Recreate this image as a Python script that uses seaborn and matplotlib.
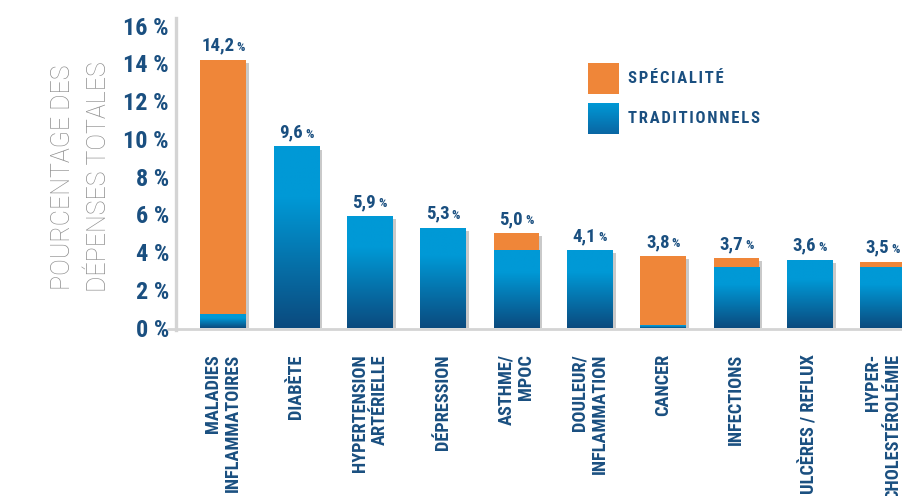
import numpy as np
import matplotlib
matplotlib.use("Agg")
import matplotlib.pyplot as plt
import matplotlib.patheffects as pe
from matplotlib.colors import LinearSegmentedColormap
from matplotlib.patches import Rectangle
from matplotlib.offsetbox import TextArea, HPacker, AnnotationBbox
from matplotlib import font_manager as fm
import seaborn as sns

# Share of total spending by therapeutic class
categories = [
    "MALADIES\nINFLAMMATOIRES", "DIABÈTE", "HYPERTENSION\nARTÉRIELLE",
    "DÉPRESSION", "ASTHME/\nMPOC", "DOULEUR/\nINFLAMMATION", "CANCER",
    "INFECTIONS", "ULCÈRES / REFLUX", "HYPER-\nCHOLESTÉROLÉMIE",
]
totals = [14.2, 9.6, 5.9, 5.3, 5.0, 4.1, 3.8, 3.7, 3.6, 3.5]
traditional = [0.7, 9.6, 5.9, 5.3, 4.1, 4.1, 0.15, 3.2, 3.6, 3.2]
value_labels = ["14,2", "9,6", "5,9", "5,3", "5,0", "4,1", "3,8", "3,7", "3,6", "3,5"]
y_ticks = [0, 2, 4, 6, 8, 10, 12, 14, 16]
series_names = ["SPÉCIALITÉ", "TRADITIONNELS"]

ORANGE = "#ef8639"
BLUE_LIGHT = "#0099d6"
BLUE_DARK = "#0b4a7e"
NAVY = "#1a4f80"
GREY_AXIS = "#d4d4d4"
SHADOW = "#c9c9c9"

sns.set_style("white")
names = {f.name for f in fm.fontManager.ttflist}
condensed = [n for n in ["Roboto Condensed", "Liberation Sans Narrow", "DejaVu Sans Condensed",
                         "Roboto", "DejaVu Sans"] if n in names]
plt.rcParams["font.family"] = condensed + ["DejaVu Sans"]


def tracked(s):
    """Spread capitals apart with hair spaces."""
    return "\u200a".join(s)


fig = plt.figure(figsize=(9.02, 4.96), dpi=100)
ax = fig.add_axes([176 / 902, 1 - 327.7 / 496, (902 - 176) / 902, (327.7 - 18) / 496])

bar_w = 0.62
shadow_fx = [pe.SimplePatchShadow(offset=(2.3, -2.3), shadow_rgbFace=SHADOW, alpha=1.0), pe.Normal()]

# Full height in orange, the traditional share drawn over it
sns.barplot(x=categories, y=totals, color=ORANGE, saturation=1, width=bar_w,
            linewidth=0, ax=ax, zorder=2)
n_total = len(ax.patches)
sns.barplot(x=categories, y=traditional, color=BLUE_LIGHT, saturation=1, width=bar_w,
            linewidth=0, ax=ax, zorder=3)

for p in ax.patches[:n_total]:
    p.set_path_effects(shadow_fx)

# Vertical gradient on the traditional segments
grad = LinearSegmentedColormap.from_list(
    "trad", [(0.0, BLUE_DARK), (0.72, BLUE_LIGHT), (1.0, BLUE_LIGHT)])
ramp = np.linspace(0, 1, 256).reshape(-1, 1)
for p in ax.patches[n_total:]:
    x0 = p.get_x()
    h = p.get_height()
    im = ax.imshow(ramp, cmap=grad, origin="lower", aspect="auto",
                   extent=(x0, x0 + p.get_width(), 0, h), zorder=3.5,
                   interpolation="bilinear")
    im.set_clip_path(p)

# Value labels: number followed by a smaller percent sign
for i, (tot, lab) in enumerate(zip(totals, value_labels)):
    num = TextArea(lab, textprops=dict(color=NAVY, fontsize=13.5, fontweight="bold"))
    pct = TextArea("%", textprops=dict(color=NAVY, fontsize=9.5, fontweight="bold"))
    box = HPacker(children=[num, pct], align="baseline", pad=0, sep=1.5)
    ab = AnnotationBbox(box, (i, tot), xybox=(0, 3.5), xycoords="data",
                        boxcoords="offset points", box_alignment=(0.5, 0),
                        frameon=False, pad=0, annotation_clip=False)
    ax.add_artist(ab)

ax.set_xlim(-0.641, 9.26)
ax.set_ylim(0, 16.4)
ax.set_yticks(y_ticks)
ax.set_yticklabels([f"{v} %" for v in y_ticks], color=NAVY, fontsize=17.5, fontweight="bold")
ax.tick_params(axis="y", length=0, pad=5)
ax.tick_params(axis="x", length=0, pad=19)
ax.set_xticks(range(len(categories)))
ax.set_xticklabels(categories, rotation=90, ha="center", va="top", color=NAVY,
                   fontsize=13.2, fontweight="heavy", multialignment="right",
                   linespacing=1.15)
ax.set_xlabel("")
ax.set_ylabel("")

for side in ["top", "right", "bottom"]:
    ax.spines[side].set_visible(False)
ax.spines["left"].set_color(GREY_AXIS)
ax.spines["left"].set_linewidth(2.4)
ax.spines["left"].set_bounds(-0.12, 16.4)
ax.axhline(-0.07, xmin=-8 / 726, xmax=1, color=GREY_AXIS, lw=2.0, zorder=1, clip_on=False)

fig.text(81 / 902, 1 - 177 / 496, "POURCENTAGE DES\nDÉPENSES TOTALES",
         rotation=90, ha="center", va="center", multialignment="center",
         color="#8e8e8e", fontsize=18, family=["Roboto", "DejaVu Sans"],
         fontweight="light", linespacing=1.65)

# Legend: swatches with labels
fig.patches.append(Rectangle((588 / 902, 1 - 94 / 496), 31 / 902, 31 / 496,
                             transform=fig.transFigure, facecolor=ORANGE, edgecolor="none"))
sw = fig.add_axes([588 / 902, 1 - 134 / 496, 31 / 902, 31 / 496])
sw.imshow(ramp, cmap=LinearSegmentedColormap.from_list("sw", ["#0a66a3", BLUE_LIGHT]),
          origin="lower", aspect="auto", interpolation="bilinear")
sw.set_axis_off()
for name, yc in zip(series_names, [78.5, 118.5]):
    fig.text(628 / 902, 1 - yc / 496, tracked(name), ha="left", va="center",
             color=NAVY, fontsize=12, fontweight="bold")

fig.savefig("out.png", dpi=100)
